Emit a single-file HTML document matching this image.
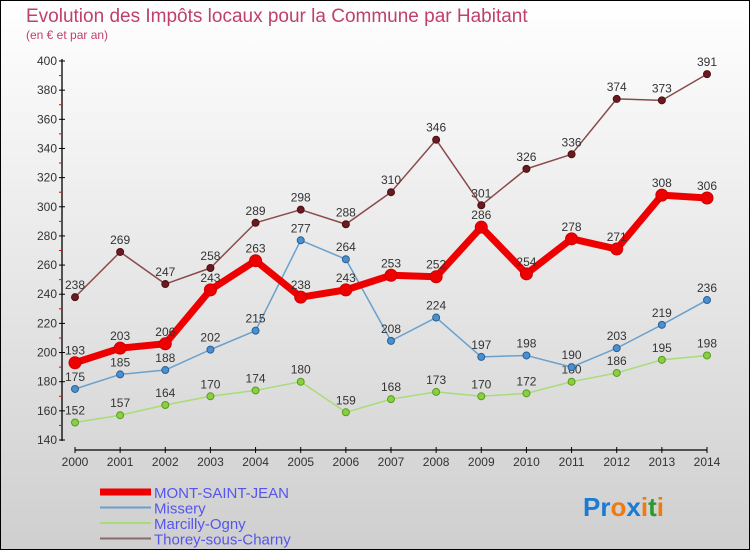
<!DOCTYPE html>
<html><head><meta charset="utf-8"><style>
body{margin:0;width:750px;height:550px;overflow:hidden;font-family:"Liberation Sans",sans-serif}
</style></head><body>
<svg id="c" width="750" height="550" xmlns="http://www.w3.org/2000/svg">
<defs><linearGradient id="bg" x1="0" y1="0" x2="0" y2="1"><stop offset="0" stop-color="#ffffff"/><stop offset="1" stop-color="#cfcfcf"/></linearGradient></defs>
<rect x="0.5" y="0.5" width="749" height="549" fill="url(#bg)" stroke="#000" stroke-width="1"/>
<text x="26" y="22" font-size="19" fill="#c0406a">Evolution des Impôts locaux pour la Commune par Habitant</text>
<text x="26" y="39" font-size="12" fill="#c0406a">(en € et par an)</text>
<g id="axes"></g><g id="series"></g><g id="legend"></g>
<text x="583" y="516" font-size="26" font-weight="bold"><tspan fill="#1a7bd0">Pr</tspan><tspan fill="#f07a10">o</tspan><tspan fill="#1a7bd0">x</tspan><tspan fill="#f07a10">i</tspan><tspan fill="#2a9a30">t</tspan><tspan fill="#f07a10">i</tspan></text>
</svg>
<script>
const years=[2000,2001,2002,2003,2004,2005,2006,2007,2008,2009,2010,2011,2012,2013,2014];
const yTicks=[140,160,180,200,220,240,260,280,300,320,340,360,380,400];
const montSaintJean=[193,203,206,243,263,238,243,253,252,286,254,278,271,308,306];
const missery=[175,185,188,202,215,277,264,208,224,197,198,190,203,219,236];
const marcilly=[152,157,164,170,174,180,159,168,173,170,172,180,186,195,198];
const thorey=[238,269,247,258,289,298,288,310,346,301,326,336,374,373,391];
const NS="http://www.w3.org/2000/svg";
function X(i){return 75+i*(707-75)/14;}
function Y(v){return 440-(v-140)*(440-61)/260;}
function mk(tag,attrs,parent,text){const e=document.createElementNS(NS,tag);for(const k in attrs)e.setAttribute(k,attrs[k]);if(text!==undefined)e.textContent=text;parent.appendChild(e);return e;}
const ax=document.getElementById('axes');
let e=mk('line',{x1:62,y1:59,x2:62,y2:441,stroke:'#000','stroke-width':1.3},ax);

e=mk('line',{x1:75,y1:450,x2:707,y2:450,stroke:'#000','stroke-width':1.3},ax);

yTicks.forEach((t,i)=>{
  const y=Y(t);
  mk('line',{x1:59,y1:y,x2:65,y2:y,stroke:'#000'},ax);
  const l=mk('text',{x:57,y:y+4,'font-size':12,'text-anchor':'end',fill:'#333'},ax,t);
  
  if(i<yTicks.length-1){mk('line',{x1:59,y1:Y(t+10),x2:62,y2:Y(t+10),stroke:'#e00'},ax);}
});
years.forEach((yr,i)=>{
  const x=X(i);
  mk('line',{x1:x,y1:447,x2:x,y2:453,stroke:'#000'},ax);
  const l=mk('text',{x:x,y:466,'font-size':12,'text-anchor':'middle',fill:'#333'},ax,yr);
  
});
const sg=document.getElementById('series');
function draw(data,name,color,width,dot,dotFill,dotStroke){
  const g=mk('g',{},sg);
  
  const p=mk('polyline',{points:data.map((v,i)=>X(i)+','+Y(v)).join(' '),fill:'none',stroke:color,'stroke-width':width,'stroke-linejoin':'round'},g);
  
  data.forEach((v,i)=>{
    const c=mk('circle',{cx:X(i),cy:Y(v),r:dot,fill:dotFill,stroke:dotStroke,'stroke-width':1},g);
    
    const t=mk('text',{x:X(i),y:Y(v)-8,'font-size':12,'text-anchor':'middle',fill:'#333'},g,v);
    
  });
}
draw(marcilly,'marcilly-ogny','#a8dc78',1.5,3.5,'#88d040','#5a9a20');
draw(missery,'missery','#6aa0cc',1.5,3.5,'#4a90d0','#2a6090');
draw(thorey,'thorey-sous-charny','#8a4a4a',1.5,3.5,'#6a1a20','#4a1010');
draw(montSaintJean,'mont-saint-jean','#ee0000',7,6,'#ee0000','#cc0000');
const lg=document.getElementById('legend');
const items=[['MONT-SAINT-JEAN','#ee0000',7],['Missery','#6aa0cc',2],['Marcilly-Ogny','#a8dc78',2],['Thorey-sous-Charny','#8a6a6a',2]];
items.forEach((it,i)=>{
  const y=492+i*15.5;
  const g=mk('g',{},lg);
  
  mk('line',{x1:100,y1:y,x2:151,y2:y,stroke:it[1],'stroke-width':it[2]},g);
  mk('text',{x:154,y:y+6,'font-size':15,fill:'#5555ee'},g,it[0]);
});
</script>
</body></html>
